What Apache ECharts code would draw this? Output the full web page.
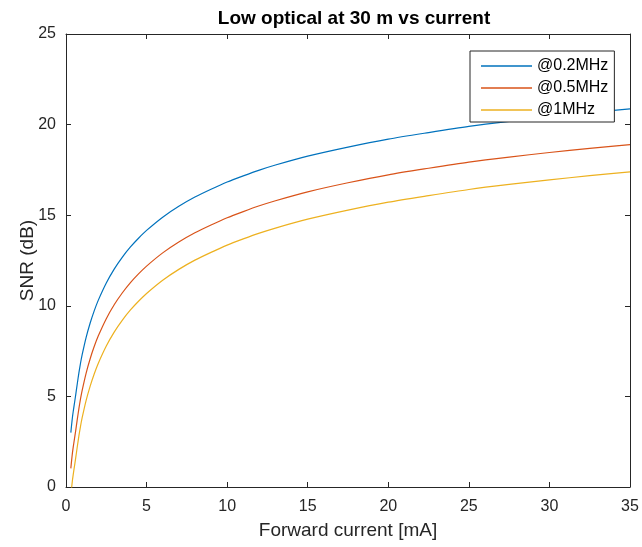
<!DOCTYPE html>
<html>
<head>
<meta charset="utf-8">
<script src="https://cdn.jsdelivr.net/npm/echarts@6/dist/echarts.min.js"></script>
<style>
  html, body { margin: 0; padding: 0; background: #fff; }
  #chart { width: 642px; height: 547px; }
</style>
</head>
<body>
<div id="chart"></div>
<script>
// Forward current samples [mA]
const current = [0.3, 0.35, 0.4, 0.45, 0.5, 0.6, 0.7, 0.8, 0.9, 1.0, 1.25, 1.5, 1.75, 2.0, 2.5, 3.0, 3.5, 4.0, 4.5, 5.0, 6.0, 7.0, 8.0, 9.0, 10.0, 11.0, 12.0, 13.0, 15.0, 17.5, 20.0, 22.5, 25.0, 27.5, 30.0, 32.5, 35.0];

// SNR [dB] for each noise bandwidth
const snr02 = [3.0, 3.45, 3.85, 4.18, 4.48, 5.07, 5.7, 6.3, 6.83, 7.29, 8.26, 9.05, 9.72, 10.3, 11.26, 12.04, 12.69, 13.25, 13.73, 14.16, 14.89, 15.49, 16.0, 16.43, 16.83, 17.17, 17.49, 17.77, 18.26, 18.76, 19.2, 19.56, 19.9, 20.18, 20.43, 20.66, 20.87];
const snr05 = [1.03, 1.48, 1.88, 2.21, 2.51, 3.1, 3.73, 4.33, 4.86, 5.32, 6.29, 7.08, 7.75, 8.33, 9.29, 10.07, 10.72, 11.28, 11.76, 12.19, 12.92, 13.52, 14.03, 14.46, 14.86, 15.2, 15.52, 15.8, 16.29, 16.79, 17.23, 17.59, 17.93, 18.21, 18.46, 18.69, 18.9];
const snr1 = [-0.48, -0.03, 0.37, 0.7, 1.0, 1.59, 2.22, 2.82, 3.35, 3.81, 4.78, 5.57, 6.24, 6.82, 7.78, 8.56, 9.21, 9.77, 10.25, 10.68, 11.41, 12.01, 12.52, 12.95, 13.35, 13.69, 14.01, 14.29, 14.78, 15.28, 15.72, 16.08, 16.42, 16.7, 16.95, 17.18, 17.39];

const seriesNames = ['@0.2MHz', '@0.5MHz', '@1MHz'];
const seriesColors = ['#0072BD', '#D95319', '#EDB120'];
const seriesData = [snr02, snr05, snr1];

const xTicks = { min: 0, max: 35, interval: 5 };
const yTicks = { min: 0, max: 25, interval: 5 };

const axisColor = '#262626';
const fontFamily = 'Liberation Sans, Arial, sans-serif';

function pairs(ys) {
  return current.map((x, i) => [x, ys[i]]);
}

const chart = echarts.init(document.getElementById('chart'), null, { renderer: 'canvas' });

const grid = { left: 66, right: 12, top: 34, bottom: 60, containLabel: false };

const baseAxis = {
  axisLine: { show: true, onZero: false, lineStyle: { color: axisColor, width: 1 } },
  axisTick: { show: true, inside: true, length: 5, lineStyle: { color: axisColor, width: 1 } },
  splitLine: { show: false }
};

chart.setOption({
  animation: false,
  backgroundColor: '#ffffff',
  title: {
    text: 'Low optical at 30 m vs current',
    left: 349,
    top: 4,
    textAlign: 'center',
    textStyle: { fontFamily, fontSize: 19, fontWeight: 'bold', color: '#000' }
  },
  grid,
  legend: {
    orient: 'vertical',
    left: 470,
    top: 51,
    data: seriesNames,
    icon: 'rect',
    itemWidth: 51,
    itemHeight: 1.4,
    itemGap: 0,
    padding: [4, 6, 1, 11],
    backgroundColor: '#ffffff',
    borderColor: axisColor,
    borderWidth: 1,
    borderRadius: 0,
    textStyle: { fontFamily, fontSize: 16, color: '#000', lineHeight: 22 }
  },
  xAxis: [
    Object.assign({}, baseAxis, {
      type: 'value',
      position: 'bottom',
      min: xTicks.min, max: xTicks.max, interval: xTicks.interval,
      name: 'Forward current [mA]',
      nameLocation: 'middle',
      nameGap: 34,
      nameMoveOverlap: false,
      nameTextStyle: { fontFamily, fontSize: 19, color: axisColor },
      axisLabel: { fontFamily, fontSize: 16, color: axisColor, margin: 12 }
    }),
    Object.assign({}, baseAxis, {
      type: 'value',
      position: 'top',
      min: xTicks.min, max: xTicks.max, interval: xTicks.interval,
      axisLabel: { show: false }
    })
  ],
  yAxis: [
    Object.assign({}, baseAxis, {
      type: 'value',
      position: 'left',
      min: yTicks.min, max: yTicks.max, interval: yTicks.interval,
      name: 'SNR (dB)',
      nameLocation: 'middle',
      nameGap: 29,
      nameMoveOverlap: false,
      nameTextStyle: { fontFamily, fontSize: 19, color: axisColor },
      axisLabel: { fontFamily, fontSize: 16, color: axisColor, margin: 10 }
    }),
    Object.assign({}, baseAxis, {
      type: 'value',
      position: 'right',
      min: yTicks.min, max: yTicks.max, interval: yTicks.interval,
      axisLabel: { show: false }
    })
  ],
  series: seriesNames.map((name, i) => ({
    name,
    type: 'line',
    xAxisIndex: 0,
    yAxisIndex: 0,
    data: pairs(seriesData[i]),
    showSymbol: false,
    symbol: 'none',
    smooth: 0.25,
    clip: true,
    color: seriesColors[i],
    lineStyle: { color: seriesColors[i], width: 1.2 }
  }))
});
</script>
</body>
</html>
